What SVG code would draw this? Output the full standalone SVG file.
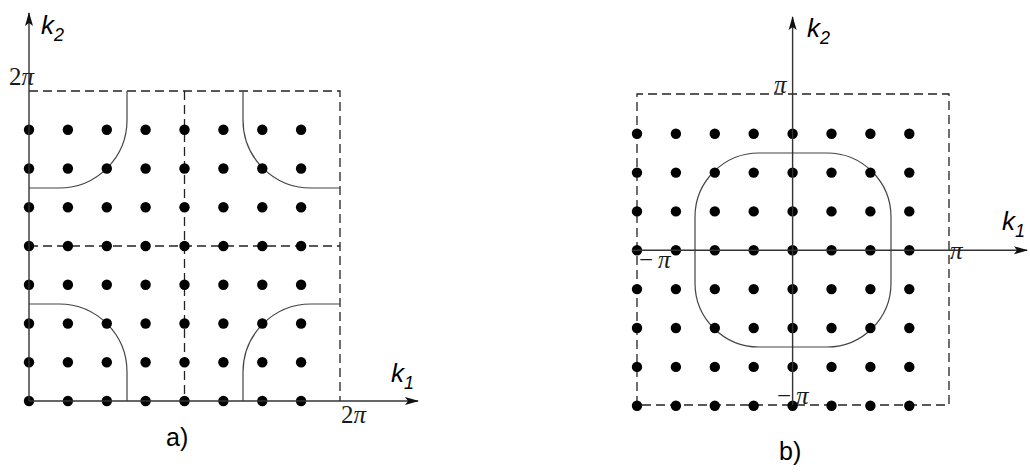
<svg xmlns="http://www.w3.org/2000/svg" width="1030" height="475" viewBox="0 0 1030 475">
<style>
.ax{stroke:#333;stroke-width:1.4;fill:none}
.ds{stroke:#222;stroke-width:1.3;fill:none;stroke-dasharray:9,5}
.cv{stroke:#444;stroke-width:1.2;fill:none}
.k{font-family:"Liberation Sans",Arial,sans-serif;font-style:italic;font-size:26px;fill:#000}
.ks{font-size:18px}
.pi{font-family:"Liberation Serif","Times New Roman",serif;font-size:25px;fill:#1a1a1a}
.it{font-style:italic}
.lb{font-family:"Liberation Sans",Arial,sans-serif;font-size:25px;fill:#000}
.d{fill:#000}
</style>
<defs>
<marker id="ar" markerWidth="14" markerHeight="10" refX="13" refY="5" orient="auto" markerUnits="userSpaceOnUse">
<path d="M0,1 L14,5 L0,9 L3,5 Z" fill="#111"/>
</marker>
<g id="row8L">
<circle cx="29" cy="0" r="5.2"/><circle cx="67.9" cy="0" r="5.2"/><circle cx="106.8" cy="0" r="5.2"/><circle cx="145.6" cy="0" r="5.2"/><circle cx="184.5" cy="0" r="5.2"/><circle cx="223.4" cy="0" r="5.2"/><circle cx="262.3" cy="0" r="5.2"/><circle cx="301.1" cy="0" r="5.2"/>
</g>
<g id="row8R">
<circle cx="637" cy="0" r="5.2"/><circle cx="675.9" cy="0" r="5.2"/><circle cx="714.8" cy="0" r="5.2"/><circle cx="753.7" cy="0" r="5.2"/><circle cx="792.6" cy="0" r="5.2"/><circle cx="831.5" cy="0" r="5.2"/><circle cx="870.4" cy="0" r="5.2"/><circle cx="909.3" cy="0" r="5.2"/>
</g>
</defs>

<g id="panel-a">
<g id="a-frame">
<path class="ds" d="M29,91 H340 V401"/>
<path class="ds" d="M184.5,91 V401"/>
<path class="ds" d="M29,246 H340"/>
</g>
<g id="a-curves">
<path class="cv" d="M29,188 H59 A68,68 0 0 0 127,120 V91"/>
<path class="cv" d="M243,91 V120 A68,68 0 0 0 311,188 H340"/>
<path class="cv" d="M29,304 H59 A68,68 0 0 1 127,372 V401"/>
<path class="cv" d="M340,304 H311 A68,68 0 0 0 243,372 V401"/>
</g>
<g id="a-dots" class="d">
<use href="#row8L" y="129.75"/><use href="#row8L" y="168.5"/><use href="#row8L" y="207.25"/><use href="#row8L" y="246"/>
<use href="#row8L" y="284.75"/><use href="#row8L" y="323.5"/><use href="#row8L" y="362.25"/><use href="#row8L" y="401"/>
</g>
<g id="a-axes">
<line class="ax" x1="29" y1="401" x2="418" y2="401" marker-end="url(#ar)"/>
<line class="ax" x1="29" y1="401" x2="29" y2="13" marker-end="url(#ar)"/>
</g>
<g id="a-labels">
<text class="k" x="41" y="34">k<tspan class="ks" dy="7">2</tspan></text>
<text class="k" x="391" y="382">k<tspan class="ks" dy="7">1</tspan></text>
<text class="pi" x="9" y="85">2<tspan class="it">π</tspan></text>
<text class="pi" x="341" y="423">2<tspan class="it">π</tspan></text>
<text class="lb" x="166" y="446">a)</text>
</g>
</g>

<g id="panel-b">
<g id="b-frame">
<path class="ds" d="M637,405 V94 H949 V405 H637"/>
</g>
<g id="b-curve">
<rect class="cv" x="695" y="153" width="196" height="194" rx="64" ry="64"/>
</g>
<g id="b-dots" class="d">
<use href="#row8R" y="133.7"/><use href="#row8R" y="172.6"/><use href="#row8R" y="211.4"/><use href="#row8R" y="250.3"/>
<use href="#row8R" y="289.1"/><use href="#row8R" y="328"/><use href="#row8R" y="366.9"/><use href="#row8R" y="405.7"/>
</g>
<g id="b-axes">
<line class="ax" x1="632" y1="250.3" x2="1027" y2="250.3" marker-end="url(#ar)"/>
<line class="ax" x1="792.6" y1="405" x2="792.6" y2="17" marker-end="url(#ar)"/>
</g>
<g id="b-labels">
<text class="k" x="807" y="37">k<tspan class="ks" dy="7">2</tspan></text>
<text class="k" x="1002" y="230">k<tspan class="ks" dy="7">1</tspan></text>
<text class="pi it" x="774" y="93">π</text>
<text class="pi" x="639" y="268">−<tspan class="it" dx="5">π</tspan></text>
<text class="pi it" x="950" y="259">π</text>
<text class="pi" x="777" y="404">−<tspan class="it" dx="5">π</tspan></text>
<text class="lb" x="779" y="460">b)</text>
</g>
</g>
</svg>
